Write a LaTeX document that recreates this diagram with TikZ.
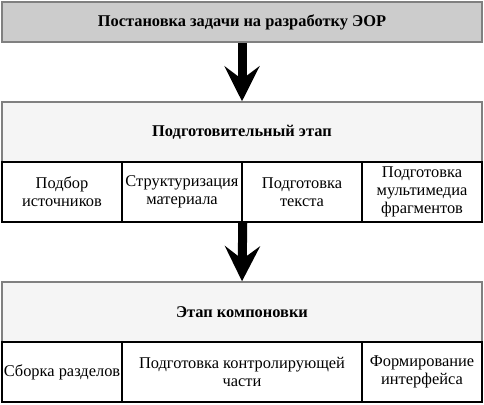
\documentclass[tikz,border=0pt]{standalone}
\usepackage{fontspec}
\setmainfont{Liberation Serif}
\usetikzlibrary{arrows.meta}
\definecolor{topfill}{HTML}{CCCCCC}
\definecolor{stagefill}{HTML}{F5F5F5}
\definecolor{boxedge}{HTML}{808080}
\newcommand\boxfont{\fontsize{16.4bp}{18bp}\selectfont}
\tikzset{
  topbox/.style={draw=boxedge, fill=topfill, line width=2bp, minimum width=480bp, minimum height=40bp, font=\boxfont\bfseries},
  stagebox/.style={draw=boxedge, fill=stagefill, line width=1.5bp, minimum width=480bp, minimum height=60bp, font=\boxfont\bfseries},
  cell/.style={draw=black, line width=1.5bp, minimum height=60bp, align=center, inner sep=1bp},
  bigarrow/.style={line width=9bp, -{Stealth[length=35bp,width=35bp,inset=13bp]}}
}

\begin{document}
\begin{tikzpicture}[x=1bp,y=-1bp,font=\boxfont]
\useasboundingbox (0,0) rectangle (484,404);
\node[topbox] (task) at (242,22) {Постановка задачи на разработку ЭОР};
%
\node[stagebox] (prep) at (242,132) {Подготовительный этап};
\foreach \i/\txt in {1/{Подбор\\источников},2/{Структуризация\\материала},3/{Подготовка\\текста},4/{Подготовка\\мультимедиа\\фрагментов}}{
\node[cell, minimum width=120bp] (prep\i) at (120*\i-58,192) {\txt};
}
%
\node[stagebox] (comp) at (242,312) {Этап компоновки};
\node[cell, minimum width=120bp] (comp1) at (62,372) {Сборка разделов};
\node[cell, minimum width=240bp] (comp2) at (242,372) {Подготовка контролирующей\\части};
\node[cell, minimum width=120bp] (comp3) at (422,372) {Формирование\\интерфейса};
%
\draw[bigarrow] (task.south) -- (prep.north);
\draw[bigarrow] (prep2.south east) -- (comp.north);
\end{tikzpicture}
\end{document}
